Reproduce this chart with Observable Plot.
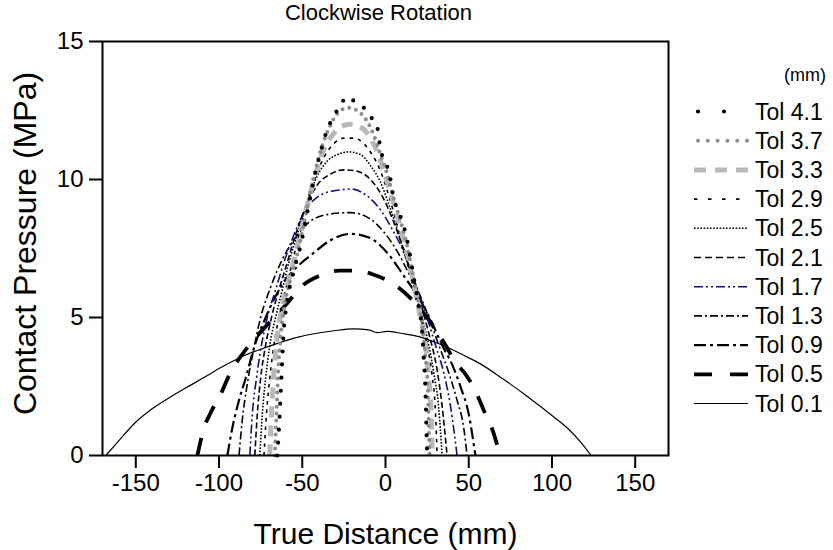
<!DOCTYPE html>
<html><head><meta charset="utf-8">
<script src="https://cdn.jsdelivr.net/npm/d3@7"></script>
<script src="https://cdn.jsdelivr.net/npm/@observablehq/plot@0.6"></script>
<style>
body{margin:0;background:#fff}
#wrap{position:relative;width:833px;height:550px;font-family:"Liberation Sans",Arial,sans-serif}
#legend{position:absolute;left:0;top:0}
</style>
</head><body><div id="wrap"></div>
<script>
const title = "Clockwise Rotation";
const xLabel = "True Distance (mm)";
const yLabel = "Contact Pressure (MPa)";
const legendUnit = "(mm)";
const xTicks = [-150, -100, -50, 0, 50, 100, 150];
const yTicks = [0, 5, 10, 15];
const seriesNames = ["Tol 4.1","Tol 3.7","Tol 3.3","Tol 2.9","Tol 2.5","Tol 2.1","Tol 1.7","Tol 1.3","Tol 0.9","Tol 0.5","Tol 0.1"];

// [distance mm, pressure MPa]
const tol41 = [[-65,0],[-64,1],[-63,2.2],[-62,3.5],[-61,4.6],[-59,5.6],[-55,6.7],[-51,7.6],[-47,8.8],[-43,10.0],[-39,11.0],[-35,11.8],[-31,12.3],[-27,12.7],[-23,13.0],[-18,12.8],[-13,12.6],[-8,12.2],[-5,11.9],[-3,11.1],[0,10.6],[2,10.3],[5,9.3],[8,8.8],[10,8.5],[13,7.8],[16,6.8],[18,6.1],[20,5.4],[22,4.5],[23,3.5],[24,2.3],[24.5,1.2],[25,0]];
const tol37 = [[-66.5,0],[-65.5,1.5],[-64.5,3],[-63,4.3],[-61,5.3],[-57,6.4],[-53,7.3],[-49,8.4],[-45,9.6],[-41,10.6],[-37,11.4],[-32,12.1],[-27,12.5],[-22,12.6],[-17,12.5],[-12,12.2],[-7,11.6],[-3,10.9],[1,10.2],[5,9.3],[9,8.5],[13,7.6],[16,6.7],[19,5.8],[22,4.8],[24,3.6],[25.5,2.3],[26,1.1],[26.5,0]];
const tol33 = [[-69.5,0],[-68.5,1.5],[-67,3],[-65,4.3],[-62,5.4],[-58,6.4],[-54,7.3],[-50,8.3],[-46,9.3],[-42,10.2],[-37,11.1],[-32,11.6],[-27,11.9],[-21,12.0],[-15,11.9],[-10,11.6],[-5,11.0],[-1,10.3],[3,9.5],[7,8.7],[11,7.8],[15,6.8],[18,5.9],[21,5.0],[24,4.0],[26,2.8],[27.5,1.4],[28,0]];
const tol29 = [[-73,0],[-71.5,1.5],[-69.5,2.8],[-67,4.0],[-64,5.0],[-60,6.0],[-56,7.0],[-52,8.0],[-47,9.2],[-42,10.1],[-37,10.8],[-31,11.3],[-25,11.5],[-19,11.5],[-13,11.3],[-8,10.9],[-3,10.3],[1,9.6],[5,8.8],[9,7.9],[13,7.0],[17,6.0],[21,5.0],[25,4.0],[28,2.9],[30,1.6],[31,0]];
const tol25 = [[-75.5,0],[-74,1.5],[-72,2.8],[-69.5,4.0],[-66,5.0],[-62,6.0],[-58,7.0],[-53,8.0],[-48,9.0],[-42,10.0],[-36,10.6],[-29,10.9],[-22,11.0],[-15,10.9],[-9,10.5],[-3,9.9],[2,9.1],[6,8.4],[10,7.6],[14,6.8],[18,5.9],[22,5.0],[26,4.0],[29,3.0],[32,1.7],[34,0]];
const tol21 = [[-78.5,0],[-77,1.5],[-75,2.8],[-72,4.0],[-68.5,5.0],[-64,6.0],[-59,7.0],[-54,8.0],[-48,9.0],[-41,9.8],[-33,10.2],[-25,10.35],[-17,10.3],[-9,10.0],[-2,9.4],[4,8.6],[9,7.8],[14,6.9],[19,6.0],[23,5.1],[27,4.2],[31,3.1],[34,1.8],[37,0]];
const tol17 = [[-81.5,0],[-80,1.5],[-77.5,2.8],[-74.5,4.0],[-71,5.0],[-66,6.0],[-61,7.0],[-55,8.0],[-48,8.9],[-40,9.4],[-30,9.6],[-20,9.65],[-11,9.4],[-3,8.9],[4,8.2],[10,7.5],[15,6.7],[20,5.9],[25,5.0],[30,4.0],[35,3.0],[39,1.8],[43,0]];
const tol13 = [[-88,0],[-86,1.3],[-83,2.6],[-79,3.9],[-75,5.0],[-69,6.1],[-62,7.1],[-54,7.9],[-45,8.5],[-33,8.75],[-21,8.8],[-10,8.6],[-1,8.1],[7,7.4],[14,6.6],[20,5.9],[26,5.0],[32,4.0],[38,3.0],[43,2.0],[47,1.0],[49,0]];
const tol09 = [[-95,0],[-92,1.0],[-88,2.0],[-84,2.8],[-79,3.9],[-72,5.0],[-62,6.2],[-52,6.9],[-44,7.3],[-33,7.8],[-21,8.03],[-10,7.9],[-3,7.6],[3,7.2],[10,6.6],[15,6.16],[22,5.5],[28,4.8],[34,4.0],[40,3.3],[45,2.5],[50,1.5],[54,0]];
const tol05 = [[-113,0],[-109,1.0],[-105,1.55],[-98,2.35],[-94,2.9],[-85,3.75],[-79,4.2],[-70,4.8],[-60,5.45],[-50,6.15],[-40,6.5],[-28,6.7],[-17,6.7],[-7,6.55],[4,6.25],[15,5.7],[25,5.0],[35,4.1],[43,3.3],[48,2.95],[53.5,2.4],[60,1.5],[65,0.8],[67,0.4],[69.5,0]];
const tol01 = [[-168,0],[-160,0.55],[-151,1.15],[-140,1.7],[-127,2.2],[-117,2.55],[-107,2.9],[-97,3.25],[-87,3.56],[-75,3.85],[-63,4.1],[-53,4.28],[-43,4.41],[-31,4.52],[-19,4.59],[-10,4.55],[-5,4.45],[1,4.5],[10,4.42],[21,4.29],[29,4.12],[37,3.92],[47,3.63],[57,3.32],[70,2.8],[85,2.15],[100,1.45],[110,0.95],[117,0.5],[123.5,0]];

const seriesData = [tol41, tol37, tol33, tol29, tol25, tol21, tol17, tol13, tol09, tol05, tol01];

// line styles (appearance only); ldash/lx1/lx2 = legend sample overrides
const styles = [
  {stroke:"#000", width:4.2, dash:"0 13", cap:"round", ldash:"0 26", lx1:698, lx2:726},
  {stroke:"#8c8c8c", width:4, dash:"0 7", cap:"round", ldash:"0 9.8", lx1:698, lx2:748},
  {stroke:"#b8b8b8", width:5, dash:"11 8", cap:"butt", ldash:"12 9"},
  {stroke:"#000", width:1.6, dash:"3.5 5", cap:"butt", ldash:"3.5 10.5"},
  {stroke:"#000", width:1.6, dash:"1.6 1.6", cap:"butt"},
  {stroke:"#000", width:1.6, dash:"6 3", cap:"butt", ldash:"7 4"},
  {stroke:"#101080", width:1.6, dash:"9 3 2 3 2 3", cap:"butt"},
  {stroke:"#000", width:1.6, dash:"8 3 2 3", cap:"butt"},
  {stroke:"#000", width:2.2, dash:"12 4 3 4", cap:"butt"},
  {stroke:"#000", width:3.8, dash:"18 16", cap:"butt", ldash:"18 18"},
  {stroke:"#000", width:1.2, dash:null, cap:"butt"}
];

const font = "Liberation Sans, Arial, sans-serif";
const lineMarks = [];
for (let i = seriesData.length - 1; i >= 0; i--) {
  const s = styles[i];
  lineMarks.push(Plot.line(seriesData[i], {
    x: d => d[0], y: d => d[1], curve: "monotone-x",
    stroke: s.stroke, strokeWidth: s.width, strokeDasharray: s.dash || undefined,
    strokeLinecap: s.cap
  }));
}

const chart = Plot.plot({
  width: 833, height: 550,
  marginLeft: 102, marginRight: 165, marginTop: 41, marginBottom: 95,
  style: {fontFamily: font, background: "#fff", color: "#000", overflow: "visible"},
  x: {domain: [-170, 170]},
  y: {domain: [0, 15]},
  marks: [
    ...lineMarks,
    Plot.frame({stroke: "#000", strokeWidth: 2}),
    Plot.axisX({ticks: xTicks, tickSize: 13, tickPadding: 5, strokeWidth: 2, fontSize: 24, tickFormat: d => String(d), label: null}),
    Plot.axisY({ticks: yTicks, tickSize: 13, tickPadding: 6, strokeWidth: 2, fontSize: 24, tickFormat: d => String(d), label: null}),
    Plot.text([title], {frameAnchor: "top", dy: -29, dx: -7, fontSize: 22, lineAnchor: "middle", textAnchor: "middle", text: d => d}),
    Plot.text([xLabel], {frameAnchor: "bottom", dy: 79, fontSize: 30, lineAnchor: "middle", textAnchor: "middle", text: d => d}),
    Plot.text([yLabel], {frameAnchor: "left", dx: -77, dy: -5, rotate: -90, fontSize: 32, lineAnchor: "middle", textAnchor: "middle", text: d => d})
  ]
});
document.getElementById("wrap").appendChild(chart);

// legend
const lg = d3.select("#wrap").append("svg").attr("id","legend").attr("width",833).attr("height",550);
lg.append("text").attr("x",826).attr("y",75).attr("text-anchor","end").attr("dominant-baseline","central")
  .attr("font-family",font).attr("font-size",18).text(legendUnit);
const ly0 = 111.5, lstep = 29.2;
seriesNames.forEach((name, i) => {
  const s = styles[i];
  const y = ly0 + i * lstep;
  lg.append("line").attr("x1",s.lx1 || 694).attr("x2",s.lx2 || 748).attr("y1",y).attr("y2",y)
    .attr("stroke",s.stroke).attr("stroke-width",s.width)
    .attr("stroke-dasharray",s.ldash || s.dash).attr("stroke-linecap",s.cap);
  lg.append("text").attr("x",755).attr("y",y).attr("dominant-baseline","central")
    .attr("font-family",font).attr("font-size",23).text(name);
});
</script>
</body></html>
